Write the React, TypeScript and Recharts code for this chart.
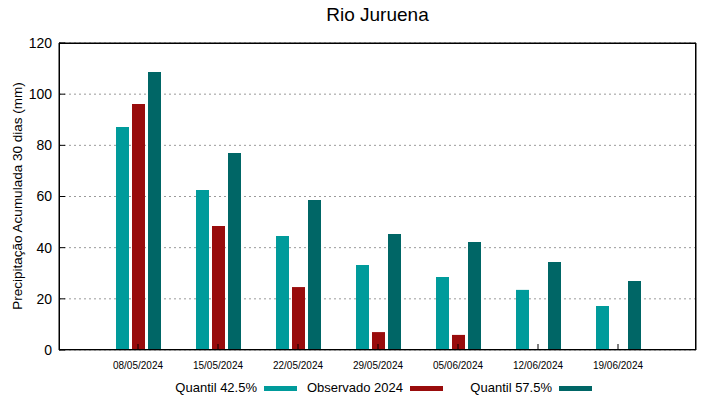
import { BarChart, Bar, XAxis, YAxis, CartesianGrid } from "recharts";

const datas = ["08/05/2024", "15/05/2024", "22/05/2024", "29/05/2024", "05/06/2024", "12/06/2024", "19/06/2024"];
const quantil425 = [87.2, 62.5, 44.6, 33.2, 28.5, 23.5, 17.2];
const observado = [96.2, 48.5, 24.6, 7.0, 5.9, null, null];
const quantil575 = [108.7, 77.0, 58.6, 45.3, 42.2, 34.4, 27.0];
const yTicks = [0, 20, 40, 60, 80, 100, 120];

const CIANO = "#009b9b";
const VERMELHO = "#990c0c";
const PETROLEO = "#006666";
const FONTE = "'Liberation Sans', Arial, sans-serif";

const data = datas.map((d, i) => ({
  data: d,
  q425: quantil425[i],
  obs: observado[i],
  q575: quantil575[i],
}));

const legenda = [
  { nome: "Quantil 42.5%", cor: CIANO, fim: 257 },
  { nome: "Observado 2024", cor: VERMELHO, fim: 403 },
  { nome: "Quantil 57.5%", cor: PETROLEO, fim: 552 },
];

export default function App() {
  return (
    <div style={{ position: "absolute", left: 0, top: 0, width: 719, height: 399, background: "#fff", fontFamily: FONTE }}>
      <div style={{ position: "absolute", left: 0, width: 755, top: 4, textAlign: "center", fontSize: 19, color: "#000" }}>
        Rio Juruena
      </div>
      <div
        style={{
          position: "absolute",
          left: 17,
          top: 196,
          transform: "translate(-50%, -50%) rotate(-90deg)",
          whiteSpace: "nowrap",
          fontSize: 13.5,
          color: "#000",
        }}
      >
        Precipitação Acumulada 30 dias (mm)
      </div>
      <BarChart
        width={719}
        height={399}
        data={data}
        margin={{ top: 42, right: 22, bottom: 19, left: 9 }}
        barSize={13}
        barGap={3}
        style={{ position: "absolute", left: 0, top: 0 }}
      >
        <CartesianGrid vertical={false} stroke="#9a9a9a" strokeDasharray="2 3" />
        <XAxis
          dataKey="data"
          height={30}
          padding={{ left: 39, right: 38 }}
          tickSize={-6}
          tickMargin={18}
          stroke="#000"
          axisLine={{ stroke: "#444" }}
          tickLine={{ stroke: "#000" }}
          tick={{ fontSize: 10, fill: "#000", fontFamily: FONTE }}
          interval={0}
        />
        <XAxis
          xAxisId="topo"
          orientation="top"
          dataKey="data"
          height={1}
          padding={{ left: 39, right: 38 }}
          tickSize={-6}
          tick={false}
          stroke="#000"
          interval={0}
        />
        <YAxis
          width={50}
          domain={[0, 120]}
          ticks={yTicks}
          tickSize={-6}
          tickMargin={13}
          stroke="#000"
          tick={{ fontSize: 14, fill: "#000", fontFamily: FONTE }}
        />
        <YAxis
          yAxisId="dir"
          orientation="right"
          width={1}
          domain={[0, 120]}
          ticks={yTicks}
          tickSize={-6}
          tick={false}
          stroke="#000"
        />
        <Bar dataKey="q425" fill={CIANO} isAnimationActive={false} />
        <Bar dataKey="obs" fill={VERMELHO} isAnimationActive={false} />
        <Bar dataKey="q575" fill={PETROLEO} isAnimationActive={false} />
      </BarChart>
      <div
        style={{
          position: "absolute",
          left: 59,
          top: 43,
          width: 637,
          height: 307,
          boxSizing: "border-box",
          border: "1px solid #000",
          pointerEvents: "none",
        }}
      />
      {legenda.map((l) => (
        <div key={l.nome}>
          <div
            style={{
              position: "absolute",
              right: 719 - l.fim,
              top: 380,
              fontSize: 13,
              color: "#000",
              whiteSpace: "nowrap",
            }}
          >
            {l.nome}
          </div>
          <div
            style={{
              position: "absolute",
              left: l.fim + 7,
              top: 386,
              width: 33,
              height: 5,
              background: l.cor,
            }}
          />
        </div>
      ))}
    </div>
  );
}
